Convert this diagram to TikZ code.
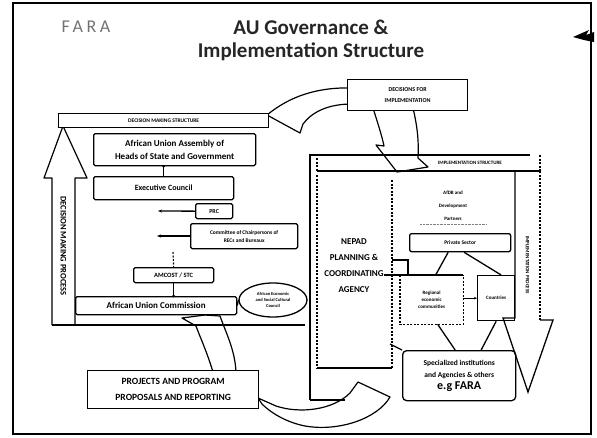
\documentclass[tikz,border=0pt]{standalone}
\usepackage{fontspec}
\setmainfont{Carlito}
\usetikzlibrary{shapes.geometric,arrows.meta,calc}
\tikzset{
  ln/.style={line width=1.3pt,black},
  bx/.style={draw,line width=1.3pt,fill=white,rounded corners=1.5pt,inner sep=1pt,align=center,anchor=north west,font=\bfseries},
  blk/.style={draw,line width=1.2pt,fill=white,line join=round},
  dotl/.style={line width=1.1pt,dash pattern=on 2pt off 1.5pt},
  tiny/.style={font=\fontsize{5.5}{6.5}\selectfont\bfseries,align=center,inner sep=0pt},
  jdot/.style={circle,fill=black,inner sep=0pt,minimum size=3pt}
}
\begin{document}
\begin{tikzpicture}[x=1pt,y=-1pt]
\useasboundingbox (0,0) rectangle (597,437);
\fill[white] (0,0) rectangle (597,437);
% slide frame
\draw[line width=1.8pt] (13,3) rectangle (591,434);
% logo fragment top right
\fill (573,37) -- (589,30) -- (586,35) -- (594,32) -- (594,42) -- (584,40) -- cycle;
% header
\node[font=\fontsize{18}{20}\selectfont\addfontfeature{LetterSpace=20},text=black!55] (fara) at (86,27) {FARA};
\node[anchor=base,font=\fontsize{21}{25}\selectfont\bfseries,text=black!85] (t1) at (311,34) {AU Governance \&};
\node[anchor=base,font=\fontsize{21}{25}\selectfont\bfseries,text=black!85] (t2) at (311,57) {Implementation Structure};

% ===== curved block arrows (drawn first) =====
\draw[blk] (267,115) .. controls (290,96) and (318,87) .. (352,88) -- (352,104)
  .. controls (328,104) and (312,112) .. (303,124) -- (300,133) -- cycle;
\draw[blk] (373,108) .. controls (378,124) and (382,136) .. (384,146) -- (376,145) -- (397,172)
  -- (428,167) -- (418,158) .. controls (419,140) and (417,125) .. (413,108) -- cycle;
\draw[blk] (258,398) -- (276,406) .. controls (300,414) and (333,410) .. (350,393) -- (358,382)
  -- (390,397) .. controls (378,418) and (340,432) .. (305,426) .. controls (285,422) and (270,412) .. (262,404) -- cycle;
\draw[blk] (213,372) .. controls (207,352) and (200,337) .. (196,326) -- (182,318) -- (205,315)
  -- (220,316) .. controls (226,333) and (235,350) .. (236,372) -- cycle;

% ===== decision making side =====
\draw[blk] (52,325) -- (52,178) -- (44,178) -- (63,126) -- (87,178) -- (75,178) -- (75,325);
\node[rotate=-90,font=\fontsize{8.5}{10}\selectfont\bfseries] (dmp) at (63.5,246) {DECISION MAKING PROCESS};
\draw[ln] (52,325) -- (305,325);
\node[bx,rounded corners=0pt,minimum width=210pt,minimum height=14pt,font=\fontsize{5.5}{6.5}\selectfont\bfseries] (dms) at (58,113) {DECISION MAKING STRUCTURE};

\node[bx,minimum width=162pt,minimum height=32pt,font=\fontsize{9}{13}\selectfont\bfseries] (asm) at (93,133) {African Union Assembly of\\Heads of State and Government};
\node[bx,minimum width=140pt,minimum height=23pt,font=\fontsize{8}{9}\selectfont\bfseries] (exc) at (93,176) {Executive Council};
\node[bx,minimum width=37pt,minimum height=15pt,font=\fontsize{6}{7}\selectfont\bfseries] (prc) at (195,203) {PRC};
\node[bx,minimum width=107pt,minimum height=25pt,font=\fontsize{5.5}{8}\selectfont\bfseries] (com) at (190,223) {Committee of Chairpersons of\\RECs and Bureaux};
\node[bx,minimum width=80pt,minimum height=15pt,font=\fontsize{6.5}{7}\selectfont\bfseries] (amc) at (133,267) {AMCOST / STC};
\node[bx,minimum width=161pt,minimum height=18pt,font=\fontsize{9}{10}\selectfont\bfseries] (auc) at (75,296) {African Union Commission};
\node[draw,ellipse,line width=1.3pt,fill=white,minimum width=68pt,minimum height=34pt,inner sep=0pt,align=center,font=\fontsize{4.5}{6}\selectfont\bfseries] (eco) at (273,300) {African Economic\\and Social Cultural\\Council};

\coordinate (prcL) at (158,211);
\coordinate (comL) at (157,236);
\coordinate (amcT) at (173,252);
\draw[ln] (exc.north |- asm.south) -- (exc.north);
\node[jdot] (d1) at (exc.north |- asm.south) {};
\draw[ln,-{Stealth[length=4pt,width=3pt]}] (prc.west) -- (prcL);
\draw[ln,-{Stealth[length=4pt,width=3pt]}] (com.west |- comL) -- (comL);
\draw[dotl] (amcT) -- (amc.north);
\draw[ln] (amc.south) -- (amc.south |- auc.north);
\node[jdot] (d2) at (amc.south |- auc.north) {};
\draw[ln] (auc.east) -- (eco.west);

% ===== decisions for implementation =====
\node[bx,rounded corners=0pt,minimum width=120pt,minimum height=31pt,font=\fontsize{6}{11}\selectfont\bfseries] (dfi) at (347,79) {DECISIONS FOR\\IMPLEMENTATION};

% ===== projects =====
\node[bx,rounded corners=0pt,minimum width=171pt,minimum height=38pt,font=\fontsize{9.5}{16}\selectfont\bfseries] (prj) at (87,370) {PROJECTS AND PROGRAM\\PROPOSALS AND REPORTING};

% ===== implementation structure =====
\draw[ln] (310,400) -- (310,155) -- (530,155);
\draw[ln] (317,171) -- (540,171);
\draw[dotl] (317,158) -- (317,171);
\draw[dotl] (540,155) -- (540,171);
\node[tiny,font=\fontsize{5}{6}\selectfont\bfseries] (ims) at (470,163) {IMPLEMENTATION STRUCTURE};
\draw[ln] (310,400) -- (345,400);

% NEPAD box
\draw[dotl] (317,175) -- (317,368);
\draw[dotl] (392,180) -- (392,368);
\draw[ln] (317,368) -- (392,368);
\node[font=\fontsize{9}{16}\selectfont\bfseries,align=center,inner sep=0pt] (nep) at (354,266) {NEPAD\\PLANNING \&\\COORDINATING\\AGENCY};

% AfDB and partners
\node[tiny,font=\fontsize{5}{13}\selectfont\bfseries] (afdb) at (453,206) {AfDB and\\Development\\Partners};
\draw[densely dotted,black!50] (420,224) -- (486,224);

\node[bx,rounded corners=2pt,minimum width=101pt,minimum height=18pt,font=\fontsize{5.5}{6}\selectfont\bfseries] (prv) at (409,233) {Private Sector};
\node[bx,rounded corners=0pt,draw=none,minimum width=62pt,minimum height=48pt,font=\fontsize{5}{7}\selectfont\bfseries] (rec) at (400,275) {Regional\\economic\\communities};
\draw[ln] (rec.north west) -- (rec.north east);
\draw[dotl] (rec.north west) -- (rec.south west) -- (rec.south east) -- (rec.north east);
\node[bx,rounded corners=0pt,minimum width=37pt,minimum height=45pt,font=\fontsize{5}{6}\selectfont\bfseries] (cty) at (477,275) {Countries};
\node[bx,rounded corners=4pt,minimum width=113pt,minimum height=50pt,font=\fontsize{7.5}{12}\selectfont\bfseries] (spc) at (402,350) {Specialized institutions\\and Agencies \& others\\{\fontsize{12}{14}\selectfont e.g FARA}};

\coordinate (nepA) at (392,260);
\coordinate (nepB) at (408,260);
\draw[ln] (nepA) -- (nepB) -- (nepB |- rec.north);
\draw[ln] (nep.east |- rec.north) -- (rec.north west);
\draw[ln] ($(prv.south)+(-12,0)$) -- ($(rec.north)+(4,0)$);
\draw[ln] ($(prv.south)+(4,0)$) -- ($(cty.north)+(5,0)$);
\draw[ln,-{Stealth[length=3pt,width=2.5pt]}] (rec.east |- cty.west) -- (cty.west);
\draw[ln] ($(rec.south)+(6,0)$) -- ($(spc.north)+(-4,0)$);
\draw[ln] ($(cty.south)+(0,0)$) -- ($(spc.north)+(22,0)$);
\coordinate (nepC) at (390,344);
\draw[ln] (nepC) -- (spc.north west);

% implementation right border and process arrow
\draw[ln] (515,171) -- (515,318) -- (503,318) -- (528,392) -- (553,320) -- (540,320);
\draw[dotl] (540,320) -- (540,171);
\node[rotate=-90,font=\fontsize{5}{6}\selectfont\bfseries] (imp) at (527.5,265) {IMPLEMENTATION PROCESS};
\end{tikzpicture}
\end{document}
